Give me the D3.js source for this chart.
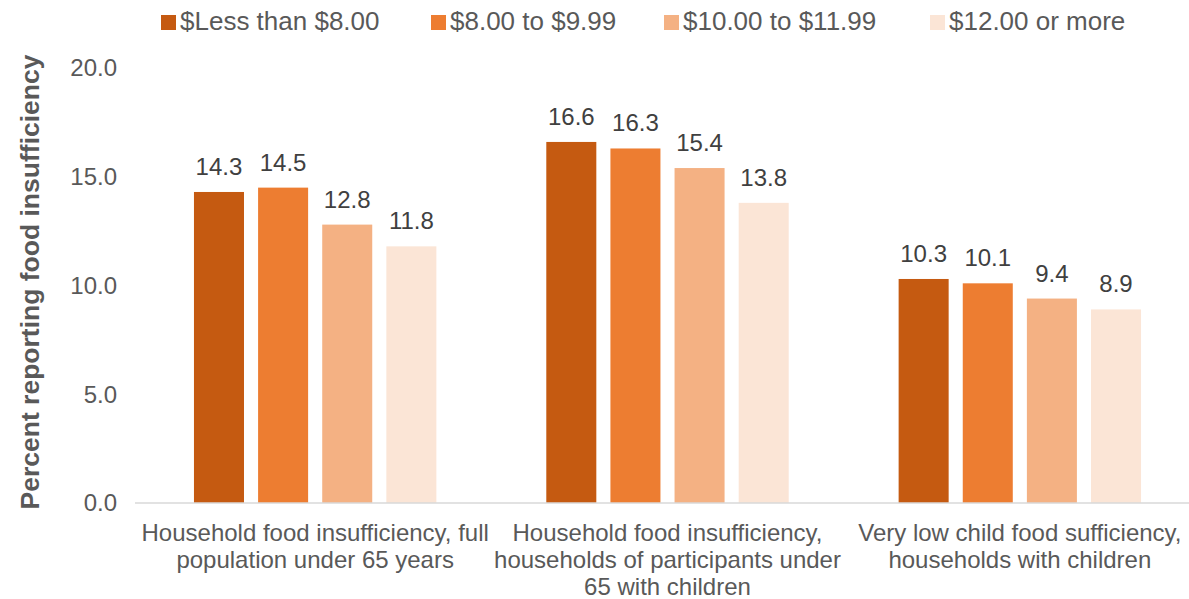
<!DOCTYPE html>
<html>
<head>
<meta charset="utf-8">
<script src="https://cdn.jsdelivr.net/npm/d3@7"></script>
<style>
  body { margin: 0; background: #fff; }
  text { font-family: "Liberation Sans", Arial, sans-serif; fill: #595959; }
</style>
</head>
<body>
<svg id="chart" width="1189" height="599"></svg>
<script>
var categories = [
    ["Household food insufficiency, full", "population under 65 years"],
    ["Household food insufficiency,", "households of participants under", "65 with children"],
    ["Very low child food sufficiency,", "households with children"]
];
var seriesNames = ["$Less than $8.00", "$8.00 to $9.99", "$10.00 to $11.99", "$12.00 or more"];
var seriesValues = [
    [14.3, 16.6, 10.3],
    [14.5, 16.3, 10.1],
    [12.8, 15.4, 9.4],
    [11.8, 13.8, 8.9]
];
var yTicks = [0, 5, 10, 15, 20];
var colors = ["#C55A11", "#ED7D31", "#F4B183", "#FBE5D6"];

var svg = d3.select("#chart");

var x0 = d3.scaleBand()
    .domain(d3.range(categories.length))
    .range([139, 1196])
    .paddingInner(0.312)
    .paddingOuter(0.156);

var x1 = d3.scaleBand()
    .domain(d3.range(seriesNames.length))
    .range([0, x0.bandwidth()])
    .paddingInner(0.22)
    .paddingOuter(0);

var y = d3.scaleLinear().domain([0, 20]).range([503, 68]);

// y tick labels
svg.append("g").selectAll("text")
    .data(yTicks)
    .enter().append("text")
    .attr("x", 117)
    .attr("y", function(d) { return y(d); })
    .attr("dy", "0.35em")
    .attr("text-anchor", "end")
    .style("font-size", "24px")
    .text(function(d) { return d3.format(".1f")(d); });

// y title
svg.append("text")
    .attr("transform", "translate(39,282) rotate(-90)")
    .attr("text-anchor", "middle")
    .style("font-size", "26.5px")
    .style("font-weight", "bold")
    .text("Percent reporting food insufficiency");

// bars
var groups = svg.append("g").selectAll("g")
    .data(categories)
    .enter().append("g")
    .attr("transform", function(d, i) { return "translate(" + x0(i) + ",0)"; });

groups.each(function(c, ci) {
    var g = d3.select(this);
    seriesValues.forEach(function(vals, si) {
        g.append("rect")
            .attr("x", x1(si))
            .attr("y", y(vals[ci]))
            .attr("width", x1.bandwidth())
            .attr("height", y(0) - y(vals[ci]))
            .attr("fill", colors[si]);
        g.append("text")
            .attr("x", x1(si) + x1.bandwidth() / 2)
            .attr("y", y(vals[ci]) - 17)
            .attr("text-anchor", "middle")
            .style("font-size", "24px")
            .style("fill", "#404040")
            .text(d3.format(".1f")(vals[ci]));
    });
});

// baseline
svg.append("line")
    .attr("x1", 135).attr("x2", 1189)
    .attr("y1", y(0)).attr("y2", y(0))
    .attr("stroke", "#d9d9d9")
    .attr("stroke-width", 1.5);

// category labels
groups.each(function(lines) {
    var t = d3.select(this).append("text")
        .attr("text-anchor", "middle")
        .style("font-size", "24px");
    lines.forEach(function(line, li) {
        t.append("tspan")
            .attr("x", x0.bandwidth() / 2)
            .attr("y", 541 + li * 27)
            .text(line);
    });
});

// legend
var legendX = [161, 431, 664, 930];
var legend = svg.append("g").selectAll("g")
    .data(seriesNames)
    .enter().append("g")
    .attr("transform", function(d, i) { return "translate(" + legendX[i] + ",0)"; });
legend.append("rect")
    .attr("x", 0).attr("y", 15)
    .attr("width", 15).attr("height", 15)
    .attr("fill", function(d, i) { return colors[i]; });
legend.append("text")
    .attr("x", 19)
    .attr("y", 30)
    .style("font-size", "26px")
    .text(function(d) { return d; });
</script>
</body>
</html>
